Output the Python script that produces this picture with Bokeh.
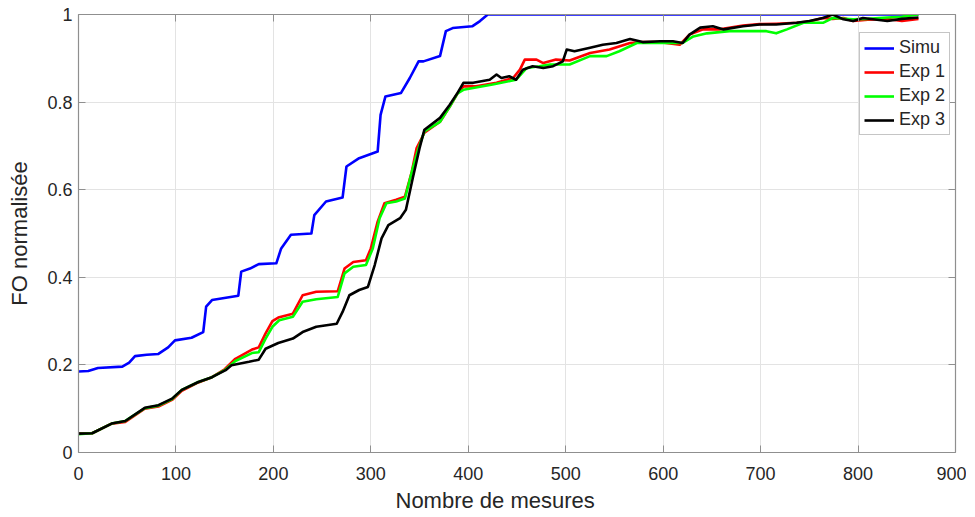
from bokeh.plotting import figure
from bokeh.models import Range1d, FixedTicker, LinearAxis, Legend, LegendItem, Title
from bokeh.embed import file_html
from bokeh.resources import INLINE

# ---- data ----
simu_x = [0, 10, 20, 45, 52, 58, 70, 82, 92, 99, 116, 128, 131, 137, 164, 167, 176, 185, 203, 208,
          218, 239, 242, 254, 271, 275, 288, 307, 310, 315, 331, 340, 349, 354, 371, 377, 384, 404, 412, 420, 862]
simu_y = [0.185, 0.186, 0.193, 0.196, 0.205, 0.220, 0.223, 0.225, 0.240, 0.256, 0.262, 0.275, 0.333, 0.348,
          0.358, 0.413, 0.420, 0.430, 0.432, 0.466, 0.497, 0.500, 0.542, 0.573, 0.582, 0.653, 0.672, 0.687,
          0.771, 0.813, 0.821, 0.855, 0.893, 0.893, 0.905, 0.962, 0.969, 0.973, 0.985, 1.0, 1.0]

exp1_x = [0, 14, 34, 48, 68, 82, 96, 106, 123, 137, 150, 161, 178, 185, 192, 199, 205, 220, 230, 244,
          266, 273, 282, 295, 300, 307, 314, 326, 335, 342, 347, 355, 371, 381, 389, 395, 408, 429, 446, 453,
          458, 470, 477, 490, 504, 525, 545, 566, 579, 597, 617, 627, 641, 658, 682, 699, 716, 737, 750, 764,
          774, 785, 795, 810, 830, 845, 862]
exp1_y = [0.043, 0.044, 0.066, 0.070, 0.100, 0.105, 0.120, 0.141, 0.160, 0.172, 0.190, 0.214, 0.235, 0.240,
          0.272, 0.300, 0.308, 0.317, 0.359, 0.367, 0.368, 0.420, 0.435, 0.439, 0.466, 0.527, 0.569, 0.577,
          0.584, 0.641, 0.695, 0.730, 0.755, 0.790, 0.820, 0.836, 0.836, 0.844, 0.855, 0.874, 0.897, 0.897,
          0.889, 0.897, 0.895, 0.912, 0.920, 0.935, 0.937, 0.937, 0.931, 0.954, 0.966, 0.966, 0.975, 0.978,
          0.979, 0.981, 0.984, 0.992, 0.990, 0.992, 0.985, 0.988, 0.990, 0.985, 0.990]

exp2_x = [0, 14, 34, 48, 68, 82, 96, 106, 123, 137, 150, 161, 178, 185, 192, 199, 206, 220, 230, 244,
          266, 273, 282, 295, 302, 309, 316, 326, 335, 343, 349, 355, 371, 381, 389, 395, 425, 449, 460, 473,
          484, 504, 525, 542, 555, 573, 590, 610, 620, 631, 645, 668, 682, 706, 716, 727, 744, 764, 774, 795,
          810, 830, 845, 862]
exp2_y = [0.042, 0.044, 0.066, 0.072, 0.101, 0.107, 0.122, 0.143, 0.161, 0.172, 0.188, 0.209, 0.227, 0.229,
          0.260, 0.287, 0.302, 0.310, 0.344, 0.350, 0.355, 0.409, 0.424, 0.428, 0.466, 0.535, 0.569, 0.573,
          0.580, 0.649, 0.695, 0.733, 0.755, 0.790, 0.820, 0.828, 0.840, 0.851, 0.878, 0.882, 0.886, 0.886,
          0.905, 0.905, 0.916, 0.935, 0.935, 0.935, 0.935, 0.950, 0.957, 0.962, 0.962, 0.962, 0.957, 0.966,
          0.981, 0.981, 0.992, 0.989, 0.990, 0.993, 0.995, 1.0]

exp3_x = [0, 14, 34, 48, 68, 82, 96, 106, 123, 137, 151, 157, 175, 185, 192, 205, 220, 230, 244, 265,
          271, 278, 288, 297, 304, 311, 318, 330, 336, 343, 350, 355, 371, 381, 389, 395, 405, 422, 429, 434,
          442, 449, 456, 466, 477, 487, 497, 501, 509, 525, 538, 552, 566, 579, 597, 610, 620, 627, 638, 651,
          662, 682, 699, 716, 737, 750, 764, 774, 785, 795, 805, 830, 845, 862]
exp3_y = [0.043, 0.044, 0.066, 0.072, 0.102, 0.108, 0.123, 0.143, 0.161, 0.172, 0.188, 0.199, 0.207, 0.212,
          0.237, 0.250, 0.260, 0.275, 0.287, 0.294, 0.321, 0.359, 0.371, 0.378, 0.428, 0.489, 0.519, 0.535,
          0.554, 0.626, 0.695, 0.737, 0.764, 0.794, 0.821, 0.844, 0.844, 0.851, 0.863, 0.855, 0.859, 0.851,
          0.874, 0.882, 0.878, 0.882, 0.893, 0.920, 0.916, 0.924, 0.931, 0.935, 0.944, 0.937, 0.939, 0.939,
          0.935, 0.954, 0.970, 0.973, 0.966, 0.973, 0.977, 0.977, 0.981, 0.985, 0.992, 1.0, 0.989, 0.985,
          0.992, 0.985, 0.990, 0.993]

series_names = ["Simu", "Exp 1", "Exp 2", "Exp 3"]
series_colors = ["#0000FF", "#FF0000", "#00FF00", "#000000"]

x_ticks = [0, 100, 200, 300, 400, 500, 600, 700, 800, 900]
y_ticks = [0, 0.2, 0.4, 0.6, 0.8, 1]
y_tick_labels = ["0", "0.2", "0.4", "0.6", "0.8", "1"]

x_label = "Nombre  de mesures"
y_label = "FO normalisée"

FONT = "Liberation Sans"
AXIS_COLOR = "#8f8f8f"
TEXT_COLOR = "#262626"

p = figure(width=966, height=515, output_backend="svg", toolbar_location=None,
           x_range=Range1d(0, 900), y_range=Range1d(0, 1),
           min_border_left=78, min_border_right=11, min_border_top=14, min_border_bottom=20)
p.outline_line_color = None
p.background_fill_color = "white"
p.border_fill_color = "white"

renderers = []
for xs, ys, c in zip([simu_x, exp1_x, exp2_x, exp3_x], [simu_y, exp1_y, exp2_y, exp3_y], series_colors):
    r = p.line(xs, ys, line_color=c, line_width=2.6, line_join="round")
    renderers.append(r)

def style_axis(ax, show_labels):
    ax.axis_line_color = AXIS_COLOR
    ax.axis_line_width = 1.2
    ax.major_tick_line_color = AXIS_COLOR
    ax.major_tick_in = 7
    ax.major_tick_out = 0
    ax.minor_tick_line_color = None
    ax.major_label_text_font = FONT
    ax.major_label_text_color = TEXT_COLOR
    ax.major_label_text_font_size = "18px"
    if not show_labels:
        ax.major_label_text_font_size = "0px"
        ax.major_label_text_alpha = 0

xa = p.xaxis[0]
ya = p.yaxis[0]
xa.ticker = FixedTicker(ticks=x_ticks)
ya.ticker = FixedTicker(ticks=y_ticks)
ya.major_label_overrides = {t: l for t, l in zip(y_ticks, y_tick_labels)}
style_axis(xa, True)
style_axis(ya, True)
xa.major_label_standoff = 14
ya.major_label_standoff = 6
ya.axis_label = y_label
ya.axis_label_text_font = FONT
ya.axis_label_text_font_style = "normal"
ya.axis_label_text_font_size = "22px"
ya.axis_label_text_color = TEXT_COLOR
ya.axis_label_standoff = 12

# x-axis label as a title below the axis (placed left of centre as in the reference)
xt = Title(text=x_label, align="left", offset=317, text_font=FONT, text_font_style="normal",
           text_font_size="22px", text_color=TEXT_COLOR, standoff=6)
p.add_layout(xt, "below")

top_ax = LinearAxis(ticker=FixedTicker(ticks=x_ticks))
right_ax = LinearAxis(ticker=FixedTicker(ticks=y_ticks))
style_axis(top_ax, False)
style_axis(right_ax, False)
p.add_layout(top_ax, "above")
p.add_layout(right_ax, "right")

p.xgrid.ticker = FixedTicker(ticks=x_ticks)
p.ygrid.ticker = FixedTicker(ticks=y_ticks)
p.grid.grid_line_color = "#e3e3e3"
p.grid.grid_line_width = 1

legend = Legend(items=[LegendItem(label=n, renderers=[r]) for n, r in zip(series_names, renderers)],
                location=(781, 317))
legend.label_text_font = FONT
legend.label_text_font_size = "18px"
legend.label_text_color = TEXT_COLOR
legend.glyph_width = 30
legend.glyph_height = 20
legend.label_height = 20
legend.label_standoff = 5
legend.spacing = 3
legend.padding = 4
legend.margin = 0
legend.border_line_color = "#8c8c8c"
legend.border_line_width = 1
legend.background_fill_color = "white"
legend.background_fill_alpha = 1
p.add_layout(legend, "center")

open("out.html", "w").write(file_html(p, INLINE))
